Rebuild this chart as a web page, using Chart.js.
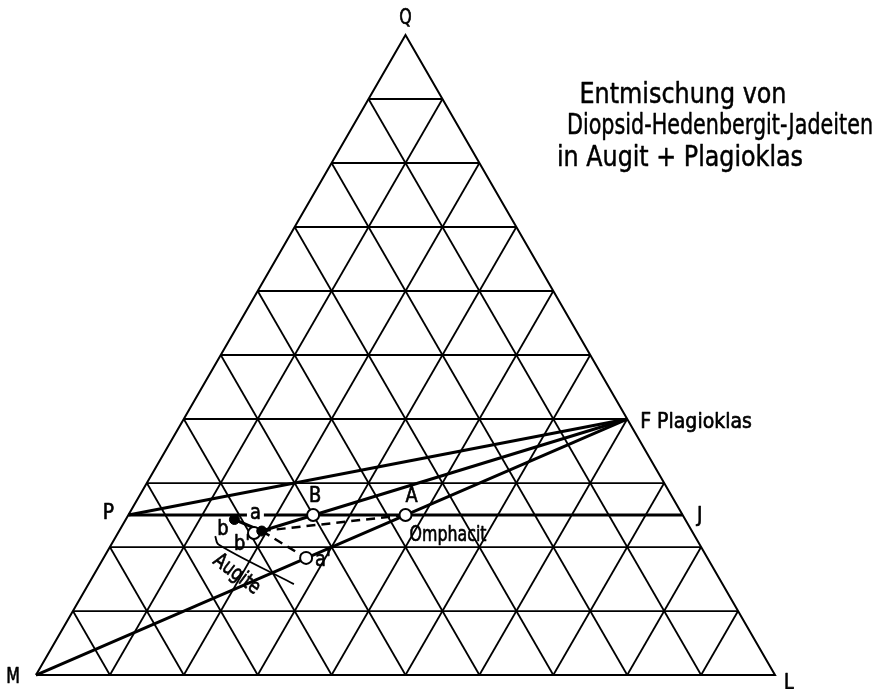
<!DOCTYPE html>
<html>
<head>
<meta charset="utf-8">
<script src="https://cdn.jsdelivr.net/npm/chart.js@4.4.1/dist/chart.umd.min.js"></script>
<style>
  html, body { margin: 0; padding: 0; background: #fff; }
  #wrap { width: 877px; height: 689px; }
</style>
</head>
<body>
<div id="wrap"><canvas id="ternary"></canvas></div>
<script>
// Dreiecksdiagramm Q - M - L, Werte als (Q, L) in Prozent, M = 100 - Q - L
const gridTicks = [10, 20, 30, 40, 50, 60, 70, 80, 90];
const vertexQ = [100, 0];
const vertexM = [0, 0];
const vertexL = [0, 100];
const pointP = [25, 0];
const pointJ = [25, 75];
const pointF = [40, 60];
const pointA = [25, 37.5];
const pointB = [25, 25];
const pointADot = [24.3, 14.7];
const pointBDot = [22.5, 19.3];
const pointBOpen = [22.2, 18.4];
const pointAPrime = [18.3, 27.4];
const augiteBracket = [[21.7, 13.4], [20.4, 14.5], [14.8, 26.5], [14.2, 27.8]];
const titleLines = ['Entmischung von', 'Diopsid-Hedenbergit-Jadeiten', 'in Augit + Plagioklas'];

const SQ3 = Math.sqrt(3) / 2;
function tern(p) {
    return { x: p[1] + p[0] / 2, y: p[0] * SQ3 };
}

const FONT = '"DejaVu Sans", sans-serif';

function seg(points, width, dash, order) {
    return {
        data: points.map(tern),
        showLine: true,
        borderColor: '#000',
        borderWidth: width,
        borderDash: dash || [],
        pointRadius: 0,
        fill: false,
        tension: 0,
        order: order
    };
}

const datasets = [];

// Gitterlinien
gridTicks.forEach(k => {
    datasets.push(seg([[k, 0], [k, 100 - k]], 1.8, null, 10));
    datasets.push(seg([[0, k], [100 - k, k]], 1.8, null, 10));
    datasets.push(seg([[0, 100 - k], [100 - k, 0]], 1.8, null, 10));
});

// Dreiecksrand
datasets.push(seg([vertexM, vertexL, vertexQ, vertexM], 2, null, 9));

// Verbindungslinien
datasets.push(seg([pointP, pointJ], 3, null, 5));
datasets.push(seg([pointF, pointP], 3, null, 5));
datasets.push(seg([pointF, pointBDot], 3, null, 5));
datasets.push(seg([pointF, vertexM], 3, null, 5));
datasets.push(seg([pointADot, pointBDot], 3, null, 5));
datasets.push(seg([pointBDot, pointA], 2.5, [9, 6], 5));
datasets.push(seg([pointBDot, pointAPrime], 2.5, [9, 6], 5));

// Klammer Augite
const bracket = seg(augiteBracket, 1.8, null, 5);
bracket.tension = 0.35;
datasets.push(bracket);

// offene Kreise
datasets.push({
    data: [pointB, pointA, pointAPrime, pointBOpen].map(tern),
    showLine: false,
    pointRadius: 6,
    pointBackgroundColor: '#fff',
    pointBorderColor: '#000',
    pointBorderWidth: 2,
    order: 1
});
// gefüllte Punkte
datasets.push({
    data: [pointADot, pointBDot].map(tern),
    showLine: false,
    pointRadius: 5,
    pointBackgroundColor: '#000',
    pointBorderColor: '#000',
    pointBorderWidth: 1,
    order: 0
});

// Beschriftungen: Ankerpunkt + Pixelversatz, sx = horizontale Stauchung
const labels = [
    { t: 'Q', at: vertexQ, dx: 0, dy: -17, size: 22, align: 'center', sx: 0.72 },
    { t: 'M', at: vertexM, dx: -23, dy: 2, size: 22, align: 'center', sx: 0.72 },
    { t: 'L', at: vertexL, dx: 14, dy: 8, size: 22, align: 'center', sx: 0.8 },
    { t: 'P', at: pointP, dx: -20, dy: -2, size: 22, align: 'center', sx: 0.85 },
    { t: 'J', at: pointJ, dx: 17, dy: 1, size: 22, align: 'center', sx: 0.85 },
    { t: 'F Plagioklas', at: pointF, dx: 13, dy: 3, size: 22, align: 'left', sx: 0.86 },
    { t: 'B', at: pointB, dx: 2, dy: -18, size: 21, align: 'center', sx: 0.85 },
    { t: 'A', at: pointA, dx: 6, dy: -18, size: 21, align: 'center', sx: 0.85 },
    { t: 'Omphacit', at: pointA, dx: 4, dy: 20, size: 22, align: 'left', sx: 0.72 },
    { t: 'a', at: pointADot, dx: 21, dy: -6, size: 21, align: 'center', bg: true, sx: 0.85 },
    { t: "a'", at: pointAPrime, dx: 9, dy: 3, size: 21, align: 'left', sx: 0.85 },
    { t: 'b', at: pointBOpen, dx: -31, dy: -3, size: 21, align: 'center', sx: 0.85 },
    { t: "b'", at: pointBOpen, dx: -12, dy: 12, size: 21, align: 'center', sx: 0.85 },
    { t: 'Augite', at: augiteBracket[1], dx: 18, dy: 30, size: 21, align: 'center', rot: 37, sx: 0.78 }
];

function drawText(ctx, s, x, y, align, sx, rot, weight) {
    ctx.save();
    ctx.translate(x, y);
    if (rot) ctx.rotate(rot * Math.PI / 180);
    if (sx) ctx.scale(sx, 1);
    ctx.textAlign = align;
    ctx.fillText(s, 0, 0);
    // etwas kräftiger, wie im gedruckten Original
    ctx.lineWidth = weight;
    ctx.strokeStyle = '#000';
    ctx.strokeText(s, 0, 0);
    ctx.restore();
}

const textPlugin = {
    id: 'ternaryText',
    beforeDraw(chart) {
        const ctx = chart.ctx;
        ctx.save();
        ctx.fillStyle = '#fff';
        ctx.fillRect(0, 0, chart.width, chart.height);
        ctx.restore();
    },
    afterDatasetsDraw(chart) {
        const ctx = chart.ctx;
        const xs = chart.scales.x;
        const ys = chart.scales.y;
        ctx.save();
        ctx.fillStyle = '#000';
        ctx.textBaseline = 'middle';
        ctx.lineJoin = 'round';
        labels.forEach(l => {
            const p = tern(l.at);
            const px = xs.getPixelForValue(p.x) + l.dx;
            const py = ys.getPixelForValue(p.y) + l.dy;
            ctx.font = l.size + 'px ' + FONT;
            if (l.bg) {
                const w = ctx.measureText(l.t).width * l.sx + 6;
                ctx.fillStyle = '#fff';
                ctx.fillRect(px - w / 2, py - 7, w, 13);
                ctx.fillStyle = '#000';
            }
            drawText(ctx, l.t, px, py, l.align, l.sx, l.rot, 0.7);
        });

        // Titel, jede Zeile auf ihre Breite gebracht
        const titleX = [683, 720, 680];
        const titleY = [96, 127, 159];
        const titleW = [207, 306, 246];
        ctx.font = '28px ' + FONT;
        titleLines.forEach((s, i) => {
            const sx = titleW[i] / ctx.measureText(s).width;
            drawText(ctx, s, titleX[i], titleY[i], 'center', sx, 0, 0.5);
        });
        ctx.restore();
    }
};

const ctx = document.getElementById('ternary');
new Chart(ctx, {
    type: 'scatter',
    data: { datasets: datasets },
    options: {
        responsive: true,
        maintainAspectRatio: false,
        animation: false,
        layout: { padding: 0, autoPadding: false },
        plugins: {
            legend: { display: false },
            tooltip: { enabled: false }
        },
        scales: {
            x: { type: 'linear', min: -4.87, max: 113.80, display: false },
            y: { type: 'linear', min: -1.89, max: 91.34, display: false }
        }
    },
    plugins: [textPlugin]
});
</script>
</body>
</html>
